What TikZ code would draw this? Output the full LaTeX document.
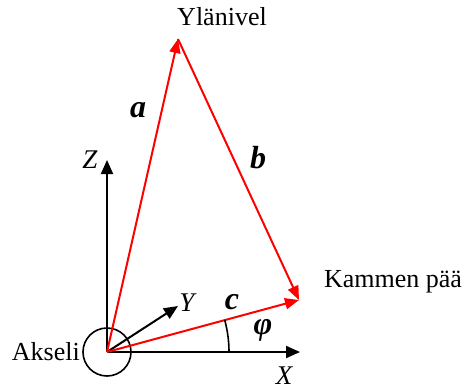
\documentclass[tikz,border=0pt]{standalone}
\usepackage{fontspec}
\setmainfont{Liberation Serif}
\usetikzlibrary{arrows.meta,positioning,calc}

\begin{document}
\begin{tikzpicture}[
  x=0.5pt,y=0.5pt,
  every node/.style={font=\fontsize{13}{15}\selectfont,inner sep=1pt},
  axis/.style={draw,black,line width=1pt,-{Triangle[length=7pt,width=6pt]}},
  vec/.style={draw,red,line width=1pt,-{Triangle[length=7pt,width=5.5pt]}},
  veclabel/.style={font=\fontsize{16}{18}\selectfont\bfseries\itshape},
]
\useasboundingbox (0,0) rectangle (466,388);
\coordinate (O) at (107,36);
\coordinate (top) at (178,349);
\coordinate (cam) at (299,88);
\coordinate (xend) at (300,36);
\coordinate (yend) at (178,82);
\coordinate (zend) at (107,228);

\node[circle,draw,line width=0.8pt,minimum size=24pt,inner sep=0pt] (axle) at (O) {};
\node[left=0pt of axle] (akseli) {Akseli};
\node (ylanivel) at (222,371) {Ylänivel};
\node (kammen) at (393,106) {Kammen pää};

\draw[axis] (O) -- (xend);
\draw[axis] (O) -- (yend);
\draw[axis] (O) -- (zend);
\node[font=\fontsize{13.5}{15}\selectfont\itshape] (xlab) at (284,12) {X};
\node[font=\fontsize{13.5}{15}\selectfont\itshape] (ylab) at (187,85) {Y};
\node[font=\fontsize{13.5}{15}\selectfont\itshape] (zlab) at (90,228) {Z};

\draw[vec] (O) -- (top);
\draw[vec] (top) -- (cam);
\draw[vec] (O) -- (cam);
\draw[line width=0.8pt] ($(O)+(122,0)$) arc[start angle=0,end angle=15.2,radius=122];

\node[veclabel] (alab) at (138,278) {a};
\node[veclabel] (blab) at (258,230) {b};
\node[veclabel] (clab) at (232,86) {c};
\node[veclabel] (philab) at (263,58) {φ};
\end{tikzpicture}
\end{document}
